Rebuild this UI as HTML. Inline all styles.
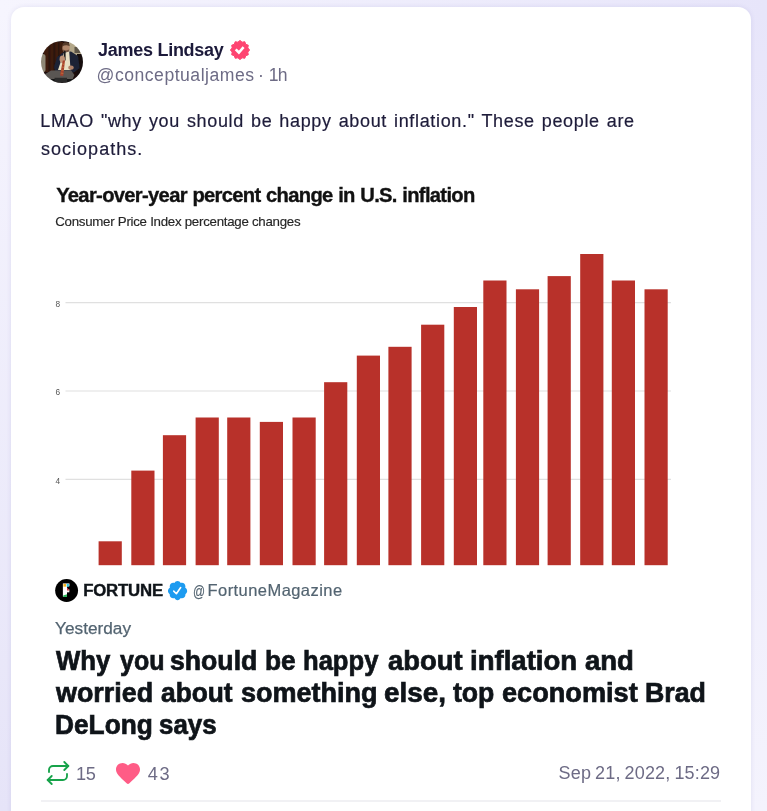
<!DOCTYPE html>
<html lang="en">
<head>
<meta charset="utf-8">
<title>Tweet</title>
<style>
html,body{margin:0;padding:0}
body{width:767px;height:811px;overflow:hidden;position:relative;background:#eceafb;font-family:'Liberation Sans', sans-serif;}
.bgl{position:absolute;left:0;top:0;width:384px;height:811px;background:linear-gradient(to bottom,#f6f5fe 0%,#e6e4f8 100%);}
.bgr{position:absolute;left:384px;top:0;width:383px;height:811px;background:linear-gradient(to bottom,#e7e5fa 0%,#f4f3fd 100%);}
.bgt{position:absolute;left:0;top:0;width:767px;height:20px;background:linear-gradient(to right,#f6f5fe 0%,#e7e5fa 100%);}
.card{position:absolute;left:11px;top:7px;width:740px;height:840px;background:#fff;border-radius:13px 13px 0 0;box-shadow:0 0 5px rgba(70,60,150,.10);}
.t{position:absolute;white-space:nowrap;line-height:1;font-family:'Liberation Sans', sans-serif;}
.w{position:absolute;top:0;white-space:nowrap;transform-origin:0 0}
.abs{position:absolute;display:block}
.sep{position:absolute;left:41px;top:800.3px;width:680px;height:1.6px;background:#f1f1f4;}
</style>
</head>
<body>
<div class="bgl"></div><div class="bgr"></div><div class="bgt"></div>
<article class="card"></article>

<!-- avatar -->
<svg class="abs" style="left:41px;top:41px" width="42" height="42" viewBox="0 0 42 42">
<defs><clipPath id="av"><circle cx="21" cy="21" r="21"/></clipPath>
<filter id="bl" x="-20%" y="-20%" width="140%" height="140%"><feGaussianBlur stdDeviation="0.55"/></filter></defs>
<g clip-path="url(#av)"><g filter="url(#bl)">
<rect x="-2" y="-2" width="46" height="46" fill="#1f0f09"/>
<rect x="3" y="1" width="19" height="30" fill="#3c1b0e"/>
<rect x="7.5" y="1" width="1.6" height="30" fill="#2a1209"/>
<rect x="12.5" y="1" width="1.6" height="30" fill="#2a1209"/>
<rect x="17" y="1" width="1.4" height="30" fill="#2a1209"/>
<rect x="-2" y="13" width="6.5" height="18" rx="2.5" fill="#8e8876"/>
<rect x="28" y="-2" width="16" height="17" fill="#b3a789"/>
<rect x="33.5" y="6" width="6" height="6" fill="#5d5546"/>
<rect x="36" y="13" width="8" height="24" fill="#15100e"/>
<ellipse cx="25" cy="7" rx="3.7" ry="5" fill="#b1866b"/>
<path d="M21.3 5.5 Q21.2 1.2 25 1.2 Q28.8 1.2 28.7 5.2 Q25 3.2 21.3 5.5 Z" fill="#573b2a"/>
<path d="M21.8 8.6 Q25 10.2 28.2 8.6 Q28 12.6 25 12.6 Q22 12.6 21.8 8.6 Z" fill="#76543f"/>
<path d="M13 26 L16 16 L22 11.5 L30 10.5 L37 15 L38.6 27 L33 31.5 L14 30 Z" fill="#1c2236"/>
<path d="M22.8 12 L28.2 10.6 L29.6 29 L17 29 L20 20 Z" fill="#e8e0c4"/>
<rect x="22.8" y="9.8" width="1.8" height="10" rx=".8" fill="#1d1b1c"/>
<ellipse cx="21.3" cy="18.2" rx="2.7" ry="3.7" fill="#bf9377"/>
<ellipse cx="30" cy="26.6" rx="2.7" ry="2.2" fill="#ae8167"/>
<path d="M3.5 33.5 L10 29.6 L30 29.2 L33.4 34 L31.5 38.5 L7 38.5 Z" fill="#5a5653"/>
<path d="M21.8 19.5 L24 19.5 L22.2 35 L19 34.4 Z" fill="#a9432d"/>
<path d="M21 23 l2.6 .5 M20.6 26 l2.6 .5 M20.2 29 l2.6 .5 M19.8 32 l2.6 .5" stroke="#d6a24c" stroke-width=".6" opacity=".7" fill="none"/>
<rect x="-2" y="38" width="46" height="6" fill="#151212"/>
<rect x="13.5" y="36.8" width="12.5" height="5" fill="#2b292a"/>
</g></g>
</svg>

<span class="t" style="left:98.00px;top:40.8px;font-size:18px;font-weight:700;color:#1c1a3a;letter-spacing:-0.270px;word-spacing:0.000px;">James Lindsay</span>
<!-- pink verified badge -->
<svg class="abs" style="left:230px;top:40px" width="20" height="20" viewBox="0 0 20 20">
<polygon points="10.00,0.40 12.10,2.18 14.80,1.69 15.73,4.27 18.31,5.20 17.82,7.90 19.60,10.00 17.82,12.10 18.31,14.80 15.73,15.73 14.80,18.31 12.10,17.82 10.00,19.60 7.90,17.82 5.20,18.31 4.27,15.73 1.69,14.80 2.18,12.10 0.40,10.00 2.18,7.90 1.69,5.20 4.27,4.27 5.20,1.69 7.90,2.18" fill="#fe4471" stroke="#fe4471" stroke-width="1" stroke-linejoin="round"/>
<path d="M5.7 9.3 L8.9 12.5 L13.6 7.2" fill="none" stroke="#fff" stroke-width="2.6" stroke-linecap="butt" stroke-linejoin="miter"/>
</svg>
<span class="t" style="left:96.54px;top:67.1px;font-size:17.6px;font-weight:400;color:#6d6b85;letter-spacing:0.508px;word-spacing:0.000px;">@conceptualjames</span>
<span class="t" style="left:258.06px;top:67.1px;font-size:17.6px;font-weight:400;color:#6d6b85;letter-spacing:0.000px;word-spacing:0.000px;">·</span>
<span class="t" style="left:268.80px;top:67.1px;font-size:17.6px;font-weight:400;color:#6d6b85;letter-spacing:-0.800px;word-spacing:0.000px;">1h</span>

<span class="t" style="left:40.22px;top:111.8px;font-size:18px;font-weight:400;color:#1e1c3a;letter-spacing:0.658px;word-spacing:1.361px;-webkit-text-stroke:0.2px #1e1c3a;">LMAO "why you should be happy about inflation." These people are</span>
<span class="t" style="left:41.10px;top:139.8px;font-size:18px;font-weight:400;color:#1e1c3a;letter-spacing:1.000px;word-spacing:0.000px;-webkit-text-stroke:0.2px #1e1c3a;">sociopaths.</span>

<!-- embedded image -->
<svg class="abs" style="left:41px;top:170px" width="680" height="576" viewBox="0 0 680 576">
<rect width="680" height="576" fill="#fff"/>
<g stroke="#e0e0e0" stroke-width="1.1">
<line x1="24.5" y1="132.6" x2="630" y2="132.6"/>
<line x1="24.5" y1="221" x2="630" y2="221"/>
<line x1="24.5" y1="309.4" x2="630" y2="309.4"/>
</g>
<g fill="#b8312a">
<rect x="57.6" y="371.3" width="23.2" height="23.9"/>
<rect x="90.3" y="300.6" width="23.2" height="94.6"/>
<rect x="121.9" y="265.2" width="23.2" height="130.0"/>
<rect x="154.6" y="247.5" width="23.2" height="147.7"/>
<rect x="186.2" y="247.5" width="23.2" height="147.7"/>
<rect x="218.8" y="251.9" width="23.2" height="143.3"/>
<rect x="251.5" y="247.5" width="23.2" height="147.7"/>
<rect x="283.1" y="212.2" width="23.2" height="183.0"/>
<rect x="315.8" y="185.6" width="23.2" height="209.6"/>
<rect x="347.4" y="176.8" width="23.2" height="218.4"/>
<rect x="380.1" y="154.7" width="23.2" height="240.5"/>
<rect x="412.8" y="137.0" width="23.2" height="258.2"/>
<rect x="442.3" y="110.5" width="23.2" height="284.7"/>
<rect x="474.9" y="119.3" width="23.2" height="275.9"/>
<rect x="506.6" y="106.1" width="23.2" height="289.1"/>
<rect x="539.2" y="84.0" width="23.2" height="311.2"/>
<rect x="570.8" y="110.5" width="23.2" height="284.7"/>
<rect x="603.5" y="119.3" width="23.2" height="275.9"/>
</g>
<!-- fortune logo -->
<circle cx="25.6" cy="420.5" r="11.45" fill="#000"/>
<g transform="translate(21.6,426.4) scale(0.7,1)"><text x="0" y="0" font-family="Liberation Sans, sans-serif" font-weight="700" font-size="16.3" fill="#fff" stroke="#fff" stroke-width="1">F</text></g>
<rect x="22.1" y="414" width="3.9" height="12.9" fill="#fff"/>
<rect x="22.4" y="413.9" width="2.7" height="2.8" fill="#f7b21e"/>
<rect x="25.7" y="413.9" width="2.2" height="2.8" fill="#2cc7e4"/>
<polygon points="26,417.3 28.4,420.6 26,420.6" fill="#d8323e"/>
<polygon points="22.2,425.6 26,424.2 26,427 22.2,427" fill="#2eb85c"/>
<!-- blue badge -->
<g transform="translate(125.6,409.6) scale(0.914)">
<path d="M22.5 12.5c0-1.58-.875-2.95-2.148-3.6.154-.435.238-.905.238-1.4 0-2.21-1.71-3.998-3.818-3.998-.47 0-.92.084-1.336.25C14.818 2.415 13.51 1.5 12 1.5s-2.816.917-3.437 2.25c-.415-.165-.866-.25-1.336-.25-2.11 0-3.818 1.79-3.818 4 0 .494.083.964.237 1.4-1.272.65-2.147 2.018-2.147 3.6 0 1.495.782 2.798 1.942 3.486-.02.17-.032.34-.032.514 0 2.21 1.708 4 3.818 4 .47 0 .92-.086 1.335-.25.62 1.334 1.926 2.25 3.437 2.25 1.512 0 2.818-.916 3.437-2.25.415.163.865.248 1.336.248 2.11 0 3.818-1.79 3.818-4 0-.174-.012-.344-.033-.513 1.158-.687 1.943-1.99 1.943-3.484z" fill="#1d9bf0"/>
<path d="M7.8 12.6 L10.7 15.5 L15.4 8.7" fill="none" stroke="#fff" stroke-width="1.75" stroke-linecap="round" stroke-linejoin="round"/>
</g>
</svg>

<span class="t" style="left:56.16px;top:184.9px;font-size:20.2px;font-weight:700;color:#111111;letter-spacing:-0.683px;word-spacing:0.589px;-webkit-text-stroke:0.35px #111;">Year-over-year percent change in U.S. inflation</span>
<span class="t" style="left:55.20px;top:214.7px;font-size:13.3px;font-weight:400;color:#262626;letter-spacing:-0.271px;word-spacing:0.000px;-webkit-text-stroke:0.15px #262626;">Consumer Price Index percentage changes</span>
<span class="t" style="left:55.60px;top:300.0px;font-size:8.3px;font-weight:400;color:#555;letter-spacing:0.000px;word-spacing:0.000px;">8</span>
<span class="t" style="left:55.60px;top:388.0px;font-size:8.3px;font-weight:400;color:#555;letter-spacing:0.000px;word-spacing:0.000px;">6</span>
<span class="t" style="left:55.60px;top:477.0px;font-size:8.3px;font-weight:400;color:#555;letter-spacing:0.000px;word-spacing:0.000px;">4</span>
<span class="t" style="left:83.16px;top:582.8px;font-size:16.8px;font-weight:700;color:#0f1419;letter-spacing:-0.193px;word-spacing:0.000px;-webkit-text-stroke:0.4px #0f1419;">FORTUNE</span>
<span class="t" style="left:192.60px;top:583.0px;font-size:16.5px;font-weight:400;color:#536471;letter-spacing:0.000px;word-spacing:0.000px;-webkit-text-stroke:0.2px #536471;transform:scaleX(0.72);transform-origin:0 0;">@</span><span class="t" style="left:207.50px;top:582.0px;font-size:16.5px;font-weight:400;color:#536471;letter-spacing:0.440px;word-spacing:0.000px;-webkit-text-stroke:0.2px #536471;">FortuneMagazine</span>
<span class="t" style="left:55.10px;top:620.4px;font-size:17.2px;font-weight:400;color:#536471;letter-spacing:0.010px;word-spacing:0.000px;-webkit-text-stroke:0.25px #536471;">Yesterday</span>
<span class="t" style="left:0;top:648.3px;width:767px;height:26.8px;font-size:26.8px;font-weight:700;color:#0f1419;-webkit-text-stroke:0.7px #0f1419;"><span class="w" style="left:55.80px;transform:scaleX(0.9596)">Why</span> <span class="w" style="left:119.50px;transform:scaleX(0.9326)">you</span> <span class="w" style="left:170.41px;transform:scaleX(0.9942)">should</span> <span class="w" style="left:264.92px;transform:scaleX(0.9833)">be</span> <span class="w" style="left:303.44px;transform:scaleX(0.9551)">happy</span> <span class="w" style="left:387.90px;transform:scaleX(1.0219)">about</span> <span class="w" style="left:470.47px;transform:scaleX(1.0284)">inflation</span> <span class="w" style="left:585.40px;transform:scaleX(1.0261)">and</span></span>
<span class="t" style="left:0;top:680.3px;width:767px;height:26.8px;font-size:26.8px;font-weight:700;color:#0f1419;-webkit-text-stroke:0.7px #0f1419;"><span class="w" style="left:55.80px;transform:scaleX(1.0031)">worried</span> <span class="w" style="left:161.10px;transform:scaleX(0.9822)">about</span> <span class="w" style="left:240.79px;transform:scaleX(1.0075)">something</span> <span class="w" style="left:383.76px;transform:scaleX(1.0386)">else,</span> <span class="w" style="left:453.00px;transform:scaleX(0.9927)">top</span> <span class="w" style="left:501.69px;transform:scaleX(1.0128)">economist</span> <span class="w" style="left:645.40px;transform:scaleX(0.9983)">Brad</span></span>
<span class="t" style="left:0;top:712.3px;width:767px;height:26.8px;font-size:26.8px;font-weight:700;color:#0f1419;-webkit-text-stroke:0.7px #0f1419;"><span class="w" style="left:55.02px;transform:scaleX(0.9804)">DeLong</span> <span class="w" style="left:159.13px;transform:scaleX(0.9672)">says</span></span>

<!-- footer -->
<svg class="abs" style="left:46px;top:761px" width="24" height="24" viewBox="0 0 24 24" fill="none" stroke="#17a34a" stroke-width="1.85" stroke-linecap="round" stroke-linejoin="round">
<polyline points="18.3 1 22.3 5 18.3 9"/><path d="M3 11V9a4 4 0 0 1 4-4h15.3"/><polyline points="5.7 23 1.7 19 5.7 15"/><path d="M21 13v2a4 4 0 0 1-4 4H1.7"/>
</svg>
<span class="t" style="left:75.92px;top:764.6px;font-size:18.2px;font-weight:400;color:#6d6b85;letter-spacing:-0.240px;word-spacing:0.000px;">15</span>
<svg class="abs" style="left:116px;top:762.8px" width="24" height="21.3" viewBox="0 0 24 22" preserveAspectRatio="none">
<path d="M12 2.6 C10.5 .9 8.6 0 6.6 0 C2.9 0 0 2.9 0 6.6 C0 10.5 3 13.5 10.6 20.9 Q12 22.3 13.4 20.9 C21 13.5 24 10.5 24 6.6 C24 2.9 21.1 0 17.4 0 C15.4 0 13.5 .9 12 2.6 Z" fill="#ff5c86"/>
</svg>
<span class="t" style="left:147.72px;top:764.6px;font-size:18.2px;font-weight:400;color:#6d6b85;letter-spacing:1.760px;word-spacing:0.000px;">43</span>
<span class="t" style="left:558.58px;top:763.8px;font-size:18px;font-weight:400;color:#6d6b85;letter-spacing:0.146px;word-spacing:-1.101px;">Sep 21, 2022, 15:29</span>
<div class="sep"></div>
</body>
</html>
